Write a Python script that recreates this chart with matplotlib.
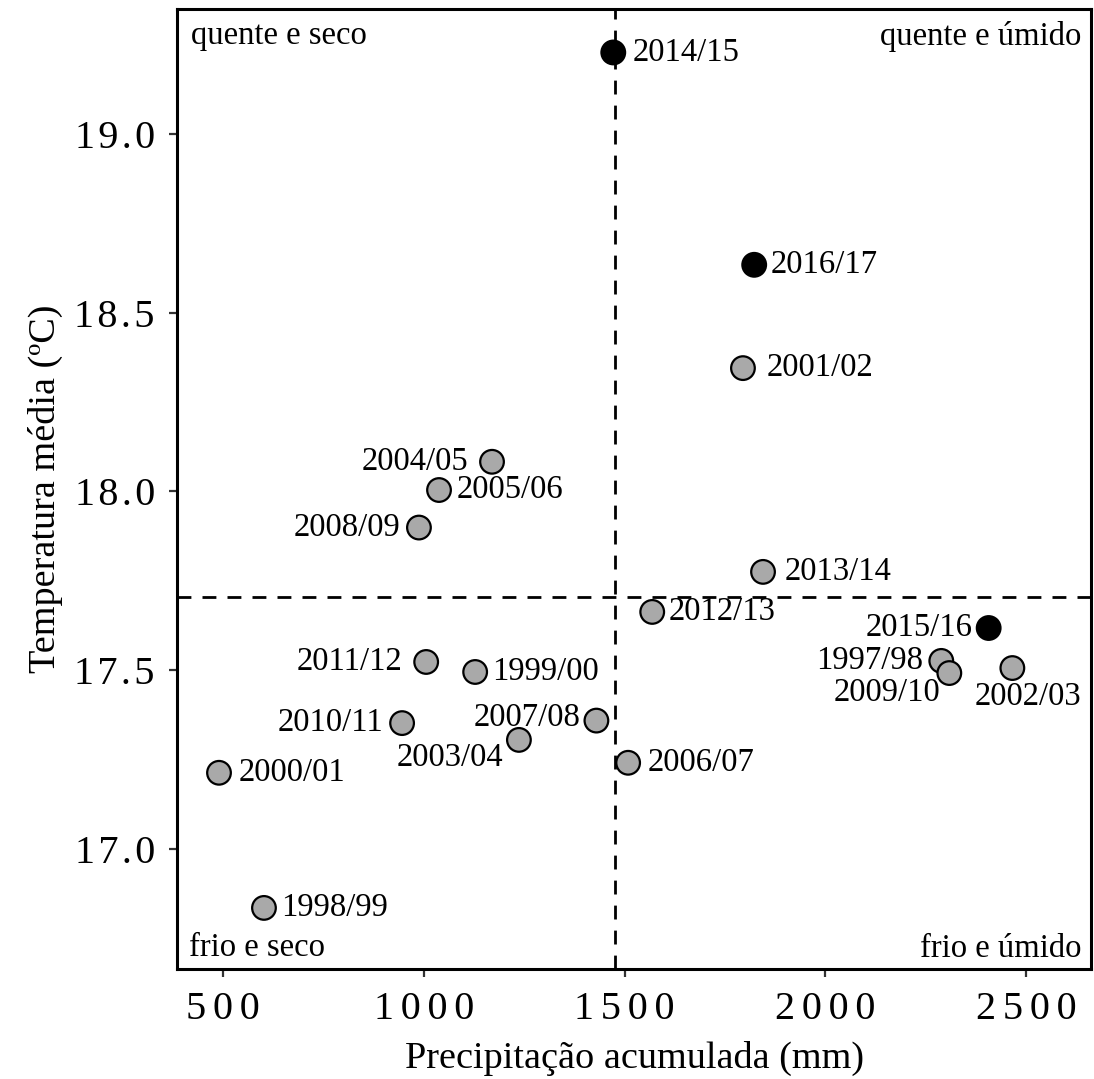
import matplotlib
matplotlib.use("Agg")
import matplotlib.pyplot as plt
from matplotlib.ticker import FuncFormatter
import numpy as np

plt.rcParams["font.family"] = ["Liberation Serif", "DejaVu Serif"]
plt.rcParams["lines.scale_dashes"] = False

# safras (ano agricola), chuva acumulada (mm) e temperatura media (C)
safras = ["2014/15", "2016/17", "2001/02", "2004/05", "2005/06", "2008/09",
          "2013/14", "2012/13", "2015/16", "1997/98", "2009/10", "2002/03",
          "2011/12", "1999/00", "2010/11", "2007/08", "2003/04", "2006/07",
          "2000/01", "1998/99"]
precip = [1472, 1823, 1795, 1170, 1038, 988,
          1845, 1569, 2407, 2289, 2309, 2466,
          1006, 1128, 946, 1430, 1237, 1509,
          490, 602]
temp = [19.228, 18.634, 18.345, 18.083, 18.004, 17.899,
        17.775, 17.663, 17.618, 17.526, 17.492, 17.506,
        17.523, 17.495, 17.352, 17.359, 17.305, 17.241,
        17.213, 16.835]
# safras de destaque (pontos pretos)
destaque = ["2014/15", "2015/16", "2016/17"]

quadrantes = ["quente e seco", "quente e úmido", "frio e seco", "frio e úmido"]

# deslocamento dos rotulos em pixels: (dx, dy, alinhamento)
desloc = {
    "2014/15": (19, 0, "left"), "2016/17": (16, 0, "left"),
    "2001/02": (24, 0, "left"), "2004/05": (-24, 0, "right"),
    "2005/06": (18, 0, "left"), "2008/09": (-19, 0, "right"),
    "2013/14": (22, 0, "left"), "2012/13": (16, 0, "left"),
    "2015/16": (-16, 0, "right"), "1997/98": (-18, 0, "right"),
    "2009/10": (-9, -20, "right"), "2002/03": (16, -29, "center"),
    "2011/12": (-24, 0, "right"), "1999/00": (17, 0, "left"),
    "2010/11": (-19, 0, "right"), "2007/08": (-16, 3, "right"),
    "2003/04": (-16, -18, "right"), "2006/07": (19, 0, "left"),
    "2000/01": (20, 0, "left"), "1998/99": (17, 0, "left"),
}

fig = plt.figure(figsize=(10.94, 10.79), dpi=100)
ax = fig.add_axes([0.1618, 0.1020, 0.9973 - 0.1618, 0.9917 - 0.1020])

x = np.array(precip)
y = np.array(temp)
cor = ["black" if s in destaque else "#a9a9a9" for s in safras]

# linhas das medias
ax.axvline(x.mean(), color="black", lw=2.0, dashes=(10, 8), zorder=1)
ax.axhline(y.mean(), color="black", lw=2.0, dashes=(10, 8), zorder=1)

ax.scatter(x, y, s=290, c=cor, edgecolors="black", linewidths=1.6, zorder=3)

for s, xi, yi in zip(safras, x, y):
    dx, dy, ha = desloc[s]
    ax.annotate(s, (xi, yi), xytext=(dx, dy), textcoords="offset pixels",
                ha=ha, va="center", fontsize=23.5, zorder=4)

ax.set_xlim(385.4, 2662)
ax.set_ylim(16.6643, 19.3497)
ax.set_xticks([500, 1000, 1500, 2000, 2500])
ax.set_yticks([17.0, 17.5, 18.0, 18.5, 19.0])

# digitos espacados nos eixos
hs = "\u200a"
ax.xaxis.set_major_formatter(FuncFormatter(lambda v, p: (hs * 2).join(f"{v:.0f}")))
ax.yaxis.set_major_formatter(FuncFormatter(lambda v, p: hs.join(f"{v:.1f}")))
ax.tick_params(labelsize=29, length=6, width=1.6, color="#333333", pad=10)

for sp in ax.spines.values():
    sp.set_linewidth(2.2)

ax.set_xlabel("Precipitação acumulada (mm)", fontsize=27.5, labelpad=9)
ax.set_ylabel("Temperatura média (ºC)", fontsize=27.5, labelpad=8)

# rotulos dos quadrantes
ax.annotate(quadrantes[0], (0, 1), xycoords="axes fraction", xytext=(14, -12),
            textcoords="offset pixels", ha="left", va="top", fontsize=23.5)
ax.annotate(quadrantes[1], (1, 1), xycoords="axes fraction", xytext=(-10, -12),
            textcoords="offset pixels", ha="right", va="top", fontsize=23.5)
ax.annotate(quadrantes[2], (0, 0), xycoords="axes fraction", xytext=(12, 13),
            textcoords="offset pixels", ha="left", va="baseline", fontsize=23.5)
ax.annotate(quadrantes[3], (1, 0), xycoords="axes fraction", xytext=(-10, 12),
            textcoords="offset pixels", ha="right", va="baseline", fontsize=23.5)

fig.savefig("out.png", dpi=100)
